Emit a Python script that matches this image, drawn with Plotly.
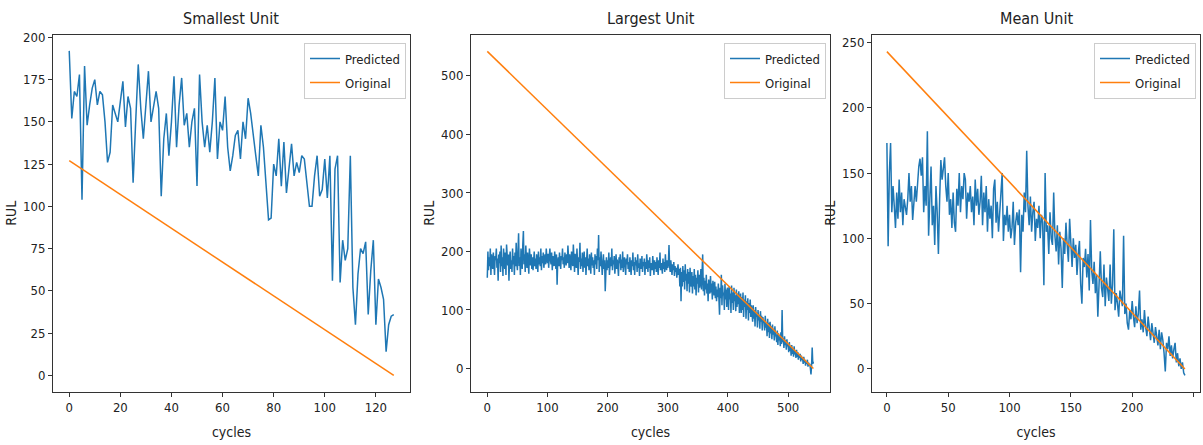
import plotly.graph_objects as go

# ---------------- data ----------------
titles = ["Smallest Unit", "Largest Unit", "Mean Unit"]

# Smallest unit: predicted RUL per cycle (cycles 0..127)
small_pred = [
    192, 152, 168, 165, 178, 104, 183, 148, 160, 170, 175, 160, 168, 166, 150, 126, 132, 160, 155, 150,
    162, 174, 147, 165, 158, 114, 150, 184, 158, 140, 160, 180, 150, 160, 168, 158, 106, 140, 155, 130,
    150, 177, 135, 160, 176, 148, 155, 135, 150, 158, 112, 178, 150, 135, 148, 132, 150, 176, 128, 150,
    145, 165, 135, 121, 130, 142, 145, 128, 150, 140, 164, 155, 144, 130, 118, 148, 135, 110, 92, 93,
    125, 118, 140, 112, 138, 108, 125, 137, 118, 126, 120, 130, 128, 115, 100, 100, 118, 130, 106, 110,
    128, 105, 130, 56, 122, 130, 55, 80, 68, 75, 130, 52, 30, 60, 75, 72, 79, 36, 62, 80,
    30, 57, 52, 45, 14, 30, 35, 36,
]
small_orig_x = [0, 127]
small_orig_y = [127, 0]

# Largest unit: predicted RUL per cycle (cycles 0..542)
large_pred = [
    155, 200, 168, 190, 175, 205, 160, 195, 182, 170, 198, 178, 160, 192, 185, 205, 172, 188, 150, 195,
    180, 200, 165, 210, 175, 190, 158, 205, 185, 170, 198, 160, 212, 182, 176, 195, 150, 188, 200, 170,
    185, 165, 205, 178, 192, 160, 198, 175, 215, 182, 168, 200, 231, 175, 190, 160, 205, 185, 170, 212,
    235, 178, 195, 165, 210, 185, 172, 198, 180, 162, 205, 188, 176, 195, 170, 190, 168, 182, 200, 175,
    188, 170, 195, 182, 165, 200, 178, 190, 175, 205, 168, 192, 180, 198, 172, 185, 195, 178, 205, 188,
    180, 196, 172, 190, 205, 185, 178, 198, 168, 192, 182, 175, 200, 186, 170, 195, 143, 180, 190, 175,
    198, 182, 170, 192, 185, 205, 178, 190, 172, 198, 186, 176, 195, 180, 210, 188, 172, 195, 182, 168,
    200, 185, 175, 212, 180, 165, 196, 188, 172, 205, 178, 160, 190, 182, 215, 170, 188, 175, 198, 165,
    185, 200, 172, 190, 160, 182, 205, 175, 188, 168, 195, 180, 162, 198, 176, 190, 172, 185, 160, 195,
    178, 192, 170, 205, 185, 228, 165, 190, 175, 200, 182, 160, 178, 195, 170, 185, 132, 175, 190, 168,
    185, 172, 198, 160, 182, 190, 175, 205, 168, 185, 178, 192, 162, 180, 195, 170, 186, 175, 158, 190,
    180, 195, 168, 186, 172, 200, 165, 182, 190, 175, 160, 188, 178, 195, 170, 182, 165, 190, 176, 160,
    185, 175, 198, 168, 182, 160, 190, 176, 185, 165, 195, 172, 180, 158, 188, 178, 170, 192, 165, 182,
    175, 188, 160, 182, 170, 195, 178, 165, 185, 172, 190, 158, 180, 176, 168, 192, 175, 160, 185, 170,
    182, 165, 190, 175, 160, 185, 172, 198, 168, 180, 175, 162, 188, 170, 182, 165, 195, 175, 168, 185,
    172, 180, 211, 175, 165, 185, 170, 160, 178, 168, 182, 158, 175, 165, 172, 155, 168, 178, 160, 170,
    140, 172, 115, 165, 140, 175, 148, 168, 135, 178, 150, 162, 132, 170, 145, 165, 130, 172, 150, 140,
    165, 128, 158, 140, 170, 135, 160, 125, 155, 145, 168, 130, 160, 138, 150, 170, 135, 158, 195, 132,
    155, 125, 150, 135, 160, 128, 145, 115, 152, 140, 128, 158, 130, 145, 118, 150, 135, 125, 148, 120,
    140, 115, 135, 122, 145, 110, 92, 138, 120, 160, 108, 142, 125, 130, 100, 145, 118, 135, 105, 138,
    132, 100, 140, 118, 128, 95, 142, 112, 130, 100, 138, 115, 125, 98, 135, 105, 128, 110, 132, 95,
    118, 128, 95, 122, 100, 130, 88, 118, 105, 125, 85, 115, 100, 120, 82, 112, 95, 118, 88, 108,
    95, 80, 108, 85, 100, 72, 105, 88, 95, 70, 100, 82, 92, 68, 98, 80, 90, 65, 88, 78,
    82, 65, 90, 70, 78, 55, 85, 62, 78, 52, 80, 60, 72, 50, 75, 58, 68, 48, 72, 55,
    58, 45, 65, 40, 60, 48, 55, 38, 62, 42, 100, 45, 52, 35, 55, 40, 48, 32, 50, 38,
    42, 28, 45, 30, 38, 22, 40, 25, 35, 20, 38, 24, 30, 18, 32, 20, 28, 15, 25, 18,
    25, 12, 22, 15, 18, 8, 20, 10, 15, 5, 12, 8, 15, 3, 10, 5, 8, 0, -10, 5,
    36, 8, 12,
]
large_orig_x = [0, 542]
large_orig_y = [542, 0]

# Mean unit: predicted RUL per cycle (cycles 0..243)
mean_pred = [
    173, 94, 150, 173, 120, 140, 125, 108, 135, 115, 145, 120, 135, 110, 130, 125, 118, 130, 150, 128,
    140, 114, 130, 140, 128, 145, 155, 161, 148, 162, 120, 140, 125, 182, 102, 130, 155, 110, 125, 95,
    140, 120, 88, 130, 160, 145, 155, 162, 140, 128, 150, 118, 130, 108, 135, 112, 105, 138, 125, 150,
    120, 140, 130, 150, 145, 115, 135, 128, 140, 120, 132, 110, 145, 125, 138, 118, 128, 148, 110, 135,
    120, 140, 105, 130, 115, 125, 100, 138, 145, 112, 128, 105, 120, 135, 150, 98, 118, 110, 125, 105,
    118, 100, 108, 128, 95, 112, 120, 110, 122, 74, 118, 105, 135, 120, 167,
    125, 110, 132, 105, 120, 128, 98, 115, 108, 125, 100, 118, 112, 64, 150, 105, 110, 88, 120, 100,
    95, 135, 102, 90, 110, 80, 105, 92, 62, 100, 88, 112, 95, 82, 115, 90, 78, 100, 85, 95,
    72, 88, 98, 65, 50, 85, 78, 92, 70, 88, 60, 114, 75, 65, 82, 58, 72, 40, 68, 90,
    62, 55, 80, 48, 70, 60, 52, 80, 50, 65, 107, 45, 58, 50, 40, 60, 52, 48, 102, 42,
    50, 35, 30, 45, 38, 52, 40, 32, 48, 35, 42, 60, 30, 38, 28, 45, 32, 25, 40, 30,
    22, 35, 28, 20, 32, 25, 18, 30, 15, 28, 22, 12, -2, 20, 15, 25, 10, 18, 8, 15,
    20, 5, 12, 2, 8, 0, 5, -3, -5,
]
mean_orig_x = [0, 243]
mean_orig_y = [243, 0]

# axis tick values per panel
x_ticks = [[0, 20, 40, 60, 80, 100, 120], [0, 100, 200, 300, 400, 500], [0, 50, 100, 150, 200, 250]]
y_ticks = [[0, 25, 50, 75, 100, 125, 150, 175, 200], [0, 100, 200, 300, 400, 500], [0, 50, 100, 150, 200, 250]]

# ---------------- layout ----------------
W, H = 1203, 445
BLUE, ORANGE = "#1f77b4", "#ff7f0e"
FONT = "Liberation Sans Narrow, DejaVu Sans Condensed, DejaVu Sans, sans-serif"

# plot-area boxes in pixels: (left, right, top, bottom)
boxes = [(53, 410, 30, 391), (471, 830, 30, 391), (872, 1200, 30, 391)]
x_ranges = [[-6.35, 133.35], [-27.1, 569.6], [-12.15, 255.3]]
y_ranges = [[-9.6, 201.6], [-39.5, 570.5], [-17.4, 256.0]]

series = [
    (small_pred, small_orig_x, small_orig_y),
    (large_pred, large_orig_x, large_orig_y),
    (mean_pred, mean_orig_x, mean_orig_y),
]

fig = go.Figure()
layout = dict(
    width=W, height=H,
    margin=dict(l=0, r=0, t=0, b=0),
    paper_bgcolor="white", plot_bgcolor="white",
    font=dict(family=FONT, size=13, color="#222"),
    showlegend=True,
    annotations=[],
)

for i, (pred, ox, oy) in enumerate(series):
    n = "" if i == 0 else str(i + 1)
    xa, ya = "x" + n, "y" + n
    leg = "legend" + n
    l, r, t, b = boxes[i]
    fig.add_trace(go.Scatter(
        x=list(range(len(pred))), y=pred, mode="lines", name="Predicted",
        line=dict(color=BLUE, width=1.5), xaxis=xa, yaxis=ya, legend=leg,
        legendgroup=f"p{i}",
    ))
    fig.add_trace(go.Scatter(
        x=ox, y=oy, mode="lines", name="Original",
        line=dict(color=ORANGE, width=1.5), xaxis=xa, yaxis=ya, legend=leg,
        legendgroup=f"o{i}",
    ))
    axis_common = dict(
        showline=True, linecolor="#333", linewidth=1, mirror=True,
        ticks="outside", ticklen=4, tickwidth=1, tickcolor="#333",
        showgrid=False, zeroline=False,
        tickfont=dict(family=FONT, size=13, color="#222"),
    )
    layout["xaxis" + n] = dict(
        axis_common, domain=[l / W, r / W], range=x_ranges[i],
        tickvals=x_ticks[i], anchor=ya,
        title=dict(text="cycles", font=dict(family=FONT, size=14, color="#222"), standoff=12),
    )
    layout["yaxis" + n] = dict(
        axis_common, domain=[1 - b / H, 1 - t / H], range=y_ranges[i],
        tickvals=y_ticks[i], anchor=xa,
        title=dict(text="RUL", font=dict(family=FONT, size=14, color="#222"), standoff=3),
    )
    layout[leg] = dict(
        x=(r - 4) / W, xanchor="right", y=1 - (t + 8) / H, yanchor="top",
        bgcolor="rgba(255,255,255,0.8)", bordercolor="#cccccc", borderwidth=1,
        font=dict(family=FONT, size=13, color="#222"),
        tracegroupgap=4, itemwidth=30,
    )
    layout["annotations"].append(dict(
        text=titles[i], x=(l + r) / 2 / W, y=1 - 14 / H, xref="paper", yref="paper",
        xanchor="center", yanchor="middle", showarrow=False,
        font=dict(family=FONT, size=16, color="#222"),
    ))

fig.update_layout(**layout)
fig.write_html("out.html")
